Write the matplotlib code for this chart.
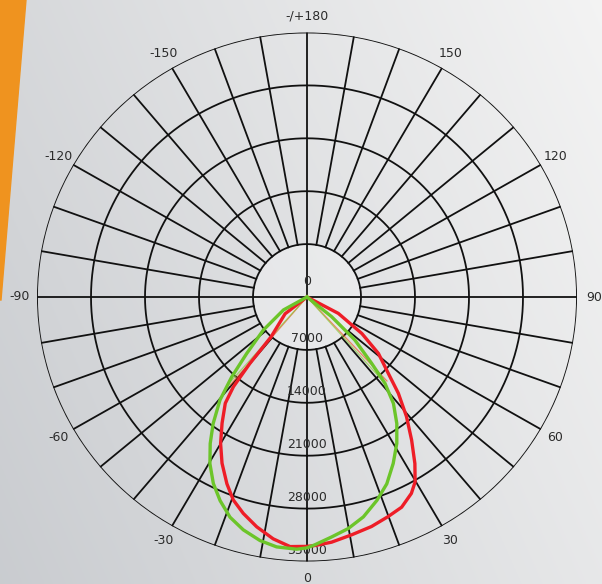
import matplotlib.pyplot as plt
import numpy as np

# luminous intensity curves, angle in degrees (0 = down, + = right), value in cd
red_deg = [-62, -52, -41.5, -40.1, -38.8, -37.0, -33.4, -30.0, -26.6, -22.8, -19.6,
           -16.1, -12.1, -7.8, -3.8, 0, 1.8, 5.6, 10.4, 15.4, 19.9, 23.8, 27.5, 29.8,
           32.4, 35.6, 39.2, 42.9, 46.2, 51.1, 55.8, 61.9, 66]
red_cd = [0, 3600, 7000, 11500, 15200, 17600, 20000, 22400, 24600, 26800, 28500,
          29800, 31100, 32300, 33100, 33000, 32900, 32600, 32000, 31500, 30900, 30400,
          29300, 28200, 26100, 23300, 20400, 17400, 14600, 11900, 8600, 4600, 0]

green_deg = [-66, -60.7, -52.3, -46.3, -42.7, -39.6, -36.0, -32.9, -29.7, -26.2, -22.7,
             -18.9, -15.0, -10.7, -6.8, -2.3, 0, 1.8, 5.8, 9.9, 14.1, 18.6, 22.7, 26.9,
             31.0, 34.8, 38.5, 41.5, 43.7, 47.5, 50.8, 54]
green_cd = [0, 3500, 7150, 10800, 14400, 17700, 20700, 23100, 25400, 27500, 29200,
            30800, 31900, 32800, 33300, 33400, 33200, 32800, 31900, 31100, 30000, 28400,
            26800, 24700, 22600, 20400, 18000, 15250, 12100, 8400, 4100, 0]

# thin straight strokes from the centre
thin_red_deg = [-40.5, -40.5, 43, 43]
thin_red_cd = [15300, 0, 0, 15200]
thin_green_deg = [-41.5, -41.5, 41.5, 41.5]
thin_green_cd = [14800, 0, 0, 15000]

angle_ticks = [0, 30, 60, 90, 120, 150, 180, -150, -120, -90, -60, -30]
angle_labels = ['0', '30', '60', '90', '120', '150', '-/+180', '-150', '-120', '-90', '-60', '-30']
ring_values = [0, 7000, 14000, 21000, 28000, 35000]
ring_labels = ['0', '7000', '14000', '21000', '28000', '35000']

fig = plt.figure(figsize=(6.02, 5.84), dpi=100)

# gray gradient background with the orange stripe
bg = fig.add_axes([0, 0, 1, 1])
xx, yy = np.meshgrid(np.linspace(0, 1, 300), np.linspace(0, 1, 300))
t = 0.7 * xx + 0.3 * yy
dark = np.array([0.79, 0.80, 0.815])
light = np.array([0.955, 0.955, 0.955])
img = dark + t[..., None] * (light - dark)
bg.imshow(img, origin='lower', extent=[0, 1, 0, 1], aspect='auto')
bg.fill([0, 26 / 602, 1 / 602, 0], [1, 1, 1 - 300 / 584, 1 - 300 / 584], color='#ef931f')
bg.set_xlim(0, 1)
bg.set_ylim(0, 1)
bg.axis('off')

ax = fig.add_axes([37 / 602, 22.5 / 584, 540 / 602, 529 / 584], projection='polar')
ax.set_aspect('auto')
ax.set_theta_zero_location('S')
ax.set_theta_direction(1)
ax.set_rlim(0, 35000)
ax.patch.set_alpha(0)
ax.grid(False)
ax.set_xticks([])
ax.set_yticks([])
ax.spines['polar'].set_visible(False)

# grid
full = np.linspace(0, 2 * np.pi, 361)
ax.fill(full, np.full_like(full, 7000), color='white', alpha=0.3, lw=0, zorder=0.5)
for v in ring_values[1:]:
    ax.plot(full, np.full_like(full, v), color='#111111', lw=1.3, zorder=1)
for d in range(0, 360, 10):
    th = np.deg2rad(d)
    r0 = 0 if d % 90 == 0 else 7000
    ax.plot([th, th], [r0, 35000], color='#111111', lw=1.3, zorder=1)

for d, lab in zip(angle_ticks, angle_labels):
    ax.text(np.deg2rad(d), 37200, lab, ha='center', va='center', fontsize=9,
            color='#2b2b2b', clip_on=False)
for v, lab in zip(ring_values, ring_labels):
    ax.annotate(lab, (0, v), xytext=(0, 6.5 if v == 0 else 3.5), textcoords='offset points',
                ha='center', va='bottom', fontsize=9, color='#2b2b2b', annotation_clip=False)

# curves
ax.plot(np.deg2rad(thin_red_deg), thin_red_cd, color='#f05a2a', lw=0.9, alpha=0.7, zorder=2)
ax.plot(np.deg2rad(thin_green_deg), thin_green_cd, color='#8cc83a', lw=0.9, alpha=0.7, zorder=2)
ax.plot(np.deg2rad(red_deg), red_cd, color='#ee1d27', lw=2.4, zorder=3,
        solid_joinstyle='round')
ax.plot(np.deg2rad(green_deg), green_cd, color='#6cc52a', lw=2.4, zorder=4,
        solid_joinstyle='round')

fig.savefig('out.png', dpi=100)
